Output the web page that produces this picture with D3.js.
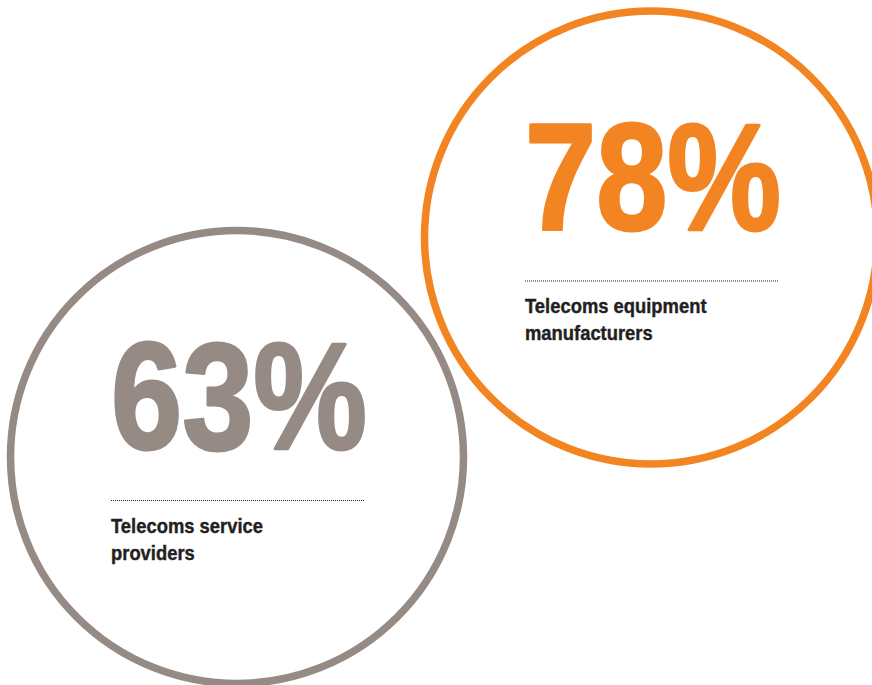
<!DOCTYPE html>
<html>
  <head>
    <title>Telecoms</title>
    <script src="https://cdn.jsdelivr.net/npm/d3@7"></script>
    <style>
      body { margin: 0; background: #fff; }
    </style>
  </head>
  <body>
    <svg width="872" height="685" id="mainsvg"></svg>
    <script>
      // data
      const categories = ['service', 'equipment'];
      const values = [63, 78];
      const labels = [['Telecoms service', 'providers'], ['Telecoms equipment', 'manufacturers']];
      const colors = ['#958b84', '#f28522'];

      const svg = d3.select('#mainsvg');

      // circle centres come from two point scales
      const xScale = d3.scalePoint().domain(categories).range([237, 651]);
      const yScale = d3.scalePoint().domain(categories).range([457, 237.5]);
      const colorScale = d3.scaleOrdinal().domain(categories).range(colors);
      const r = 226.5;

      const data = categories.map((c, i) => ({cat: c, value: values[i], label: labels[i]}));

      const g = svg.selectAll('g.bubble').data(data).enter().append('g')
        .attr('class', 'bubble')
        .attr('transform', d => `translate(${xScale(d.cat)}, ${yScale(d.cat)})`);

      g.append('circle')
        .attr('r', r)
        .attr('fill', 'none')
        .attr('stroke', d => colorScale(d.cat))
        .attr('stroke-width', 7.5);

      const font = '"Liberation Sans", Arial, sans-serif';

      // big number, squeezed to look condensed
      g.append('text')
        .text(d => d.value + '%')
        .attr('x', -126)
        .attr('y', -8)
        .attr('font-family', font)
        .attr('font-weight', 'bold')
        .attr('font-size', 152)
        .attr('textLength', 256)
        .attr('lengthAdjust', 'spacingAndGlyphs')
        .attr('fill', d => colorScale(d.cat))
        .attr('stroke', d => colorScale(d.cat))
        .attr('stroke-width', 3)
        .attr('stroke-linejoin', 'round');

      // dotted rule
      g.append('line')
        .attr('x1', -126).attr('x2', 128)
        .attr('y1', 43.5).attr('y2', 43.5)
        .attr('stroke', '#231f20')
        .attr('stroke-width', 1)
        .attr('stroke-dasharray', '1,1');

      // label lines
      g.append('text')
        .attr('transform', 'translate(-126, 0) scale(0.92, 1)')
        .attr('font-family', font)
        .attr('font-weight', 'bold')
        .attr('font-size', 20)
        .attr('fill', '#231f20')
        .attr('stroke', '#231f20')
        .attr('stroke-width', 0.4)
        .selectAll('tspan')
        .data(d => d.label)
        .enter().append('tspan')
        .attr('x', 0)
        .attr('y', (d, i) => 76 + i * 27)
        .text(d => d);
    </script>
  </body>
</html>
